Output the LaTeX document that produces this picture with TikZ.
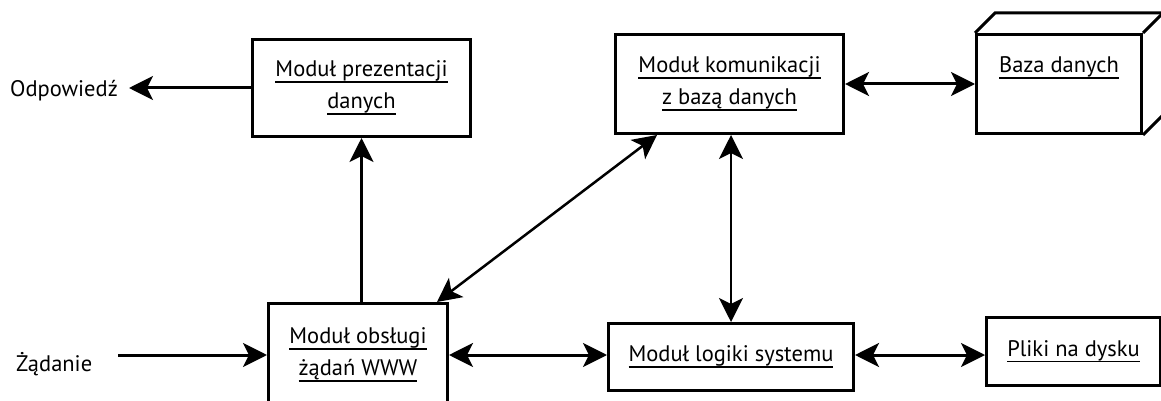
\documentclass[tikz,border=0pt]{standalone}
\usepackage{fontspec}
\setmainfont{PT Sans}
\usetikzlibrary{arrows.meta}
\newcommand\ulx[1]{\leavevmode\setbox0=\hbox{#1}\rlap{\rule[-6pt]{\wd0}{1.6pt}}\box0}
\tikzset{
  box/.style={draw, line width=3pt, inner sep=0pt, align=center, font=\fontsize{22.5}{32}\selectfont},
  txt/.style={inner sep=0pt, align=center, font=\fontsize{22.5}{32}\selectfont},
  arr/.style={line width=3pt, -{Stealth[length=24pt,width=24pt,inset=6pt]}},
  darr/.style={line width=3pt, {Stealth[length=24pt,width=24pt,inset=6pt]}-{Stealth[length=24pt,width=24pt,inset=6pt]}},
  thin darr/.style={darr, line width=2.5pt}
}
\begin{document}
\begin{tikzpicture}[x=1pt,y=-1pt]
\useasboundingbox (0,0) rectangle (1161,401);
\clip (0,0) rectangle (1161,401);
\fill[white] (0,0) rectangle (1161,401);
% boxes
\node[box, minimum width=218pt, minimum height=97pt] (prez) at (361.5,88) {\ulx{Moduł prezentacji}\\\ulx{danych}};
\node[box, minimum width=228pt, minimum height=99pt] (kom) at (729.5,84) {\ulx{Moduł komunikacji}\\\ulx{z bazą danych}};
\node[box, minimum width=165pt, minimum height=99pt] (baza) at (1059,84) {};
\node[txt] (bazat) at ([yshift=16pt]baza.center) {\ulx{Baza danych}};
\draw[line width=3pt, line join=miter] (baza.north west) -- ++(20,-20) -- ++(168,0) -- ++(0,102) -- (baza.south east);
\draw[line width=3pt] (baza.north east) -- ++(20,-20);
\node[box, minimum width=179pt, minimum height=103pt] (obs) at (358,355) {\ulx{Moduł obsługi}\\\ulx{żądań WWW}};
\node[box, minimum width=245pt, minimum height=67pt] (log) at (731,357) {\ulx{Moduł logiki systemu}};
\node[box, minimum width=174pt, minimum height=68pt] (pli) at (1073.5,351.5) {\ulx{Pliki na dysku}};
% free labels
\node[txt, anchor=base east] (odp) at (118,97) {Odpowiedź};
\node[txt, anchor=base west] (zad) at (16,371) {Żądanie};
\coordinate (zadstart) at (118,355);
% connectors
\draw[arr, shorten >=11pt] (prez.west) -- (odp.east |- prez.west);
\draw[arr] (zadstart) -- (obs.west |- zadstart);
\draw[arr] (prez.south |- obs.north) -- (prez.south);
\draw[thin darr] ([xshift=-12pt]obs.north east) -- ([xshift=43pt]kom.south west);
\draw[thin darr] (log.north |- kom.south) -- (log.north);
\draw[darr] (obs.east) -- (obs.east -| log.west);
\draw[darr] (log.east |- 0,355) -- (pli.west |- 0,355);
\draw[darr] (kom.east) -- (baza.west);
\end{tikzpicture}
\end{document}
